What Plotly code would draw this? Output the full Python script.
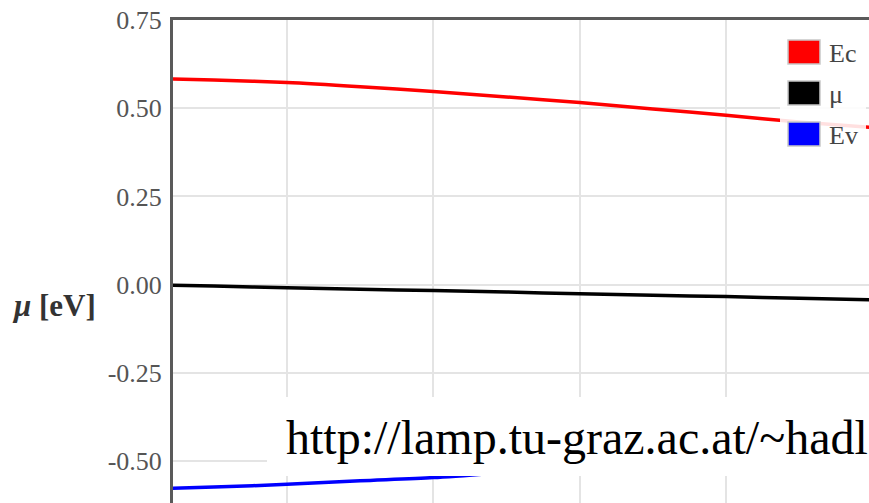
import plotly.graph_objects as go

# Temperature samples [K] and band-edge / chemical-potential energies [eV]
temperature = [44, 100, 200, 300, 400, 500, 600, 700, 800, 900, 1000]
Ec = [0.583, 0.580, 0.573, 0.561, 0.547, 0.532, 0.516, 0.498, 0.480, 0.461, 0.445]
mu = [-0.002, -0.004, -0.009, -0.013, -0.017, -0.021, -0.026, -0.030, -0.034, -0.039, -0.043]
Ev = [-0.577, -0.574, -0.566, -0.556, -0.547, -0.532, -0.516, -0.498, -0.480, -0.461, -0.445]

y_tickvals = [0.75, 0.50, 0.25, 0.00, -0.25, -0.50]
y_ticktext = ["0.75", "0.50", "0.25", "0.00", "-0.25", "-0.50"]
x_tickvals = [200, 400, 600, 800]

series_names = ["Ec", "\u03bc", "Ev"]
series_colors = ["#ff0000", "#000000", "#0000ff"]
series_values = [Ec, mu, Ev]

FIG_W, FIG_H = 869, 503
L, T = 173, 20
W, H = FIG_W - L, FIG_H - T
SERIF = "Liberation Serif, Times New Roman, serif"


def px_x(px):
    return (px - L) / W


def px_y(py):
    return (FIG_H - py) / H


fig = go.Figure()
for name, color, vals in zip(series_names, series_colors, series_values):
    fig.add_trace(go.Scatter(x=temperature, y=vals, mode="lines", name=name,
                             line=dict(color=color, width=3.5, shape="spline",
                                       smoothing=0.8),
                             showlegend=False, cliponaxis=True))

shapes = []
annotations = []

# legend panel with colour swatches
shapes.append(dict(type="rect", xref="paper", yref="paper", layer="above",
                   x0=px_x(780), x1=px_x(866), y0=px_y(155), y1=px_y(30),
                   fillcolor="rgba(255,255,255,0.88)", line=dict(width=0)))
for i, (name, color) in enumerate(zip(series_names, series_colors)):
    cy = 52 + 41 * i
    shapes.append(dict(type="rect", xref="paper", yref="paper", layer="above",
                       x0=px_x(788), x1=px_x(820), y0=px_y(cy + 12), y1=px_y(cy - 12),
                       fillcolor=color, line=dict(color="#c8c8c8", width=1.5)))
    annotations.append(dict(text=name, xref="paper", yref="paper", showarrow=False,
                            x=px_x(827), y=px_y(cy + 1), xanchor="left", yanchor="middle",
                            font=dict(family=SERIF, size=26, color="#444444")))

# web address banner
shapes.append(dict(type="rect", xref="paper", yref="paper", layer="above",
                   x0=px_x(267), x1=px_x(900), y0=px_y(476), y1=px_y(397),
                   fillcolor="#ffffff", line=dict(width=0)))
annotations.append(dict(text="http://lamp.tu-graz.ac.at/~hadl", xref="paper", yref="paper",
                        showarrow=False, x=px_x(284), y=px_y(437), xanchor="left",
                        yanchor="middle",
                        font=dict(family=SERIF, size=48, color="#000000")))

# y-axis title
annotations.append(dict(text="<b><i>\u03bc</i> [eV]</b>", xref="paper", yref="paper",
                        showarrow=False, x=px_x(10), y=px_y(305), xanchor="left",
                        yanchor="middle",
                        font=dict(family=SERIF, size=31, color="#333333")))

fig.update_layout(
    width=FIG_W, height=FIG_H,
    margin=dict(l=L, r=0, t=T, b=0, pad=0),
    paper_bgcolor="#ffffff", plot_bgcolor="#ffffff",
    shapes=shapes, annotations=annotations,
    xaxis=dict(range=[44.2, 995.4], side="top", tickvals=x_tickvals,
               showticklabels=False, ticks="", showgrid=True,
               gridcolor="#e4e4e4", gridwidth=2, zeroline=False,
               showline=True, linecolor="#5a5a5a", linewidth=3),
    yaxis=dict(range=[-0.619, 0.75], tickvals=y_tickvals, ticktext=y_ticktext,
               ticks="", ticklabelstandoff=3, showgrid=True,
               gridcolor="#e4e4e4", gridwidth=2, zeroline=False,
               showline=True, linecolor="#5a5a5a", linewidth=3,
               tickfont=dict(family=SERIF, size=26, color="#555555")),
)

fig.write_html("out.html")
